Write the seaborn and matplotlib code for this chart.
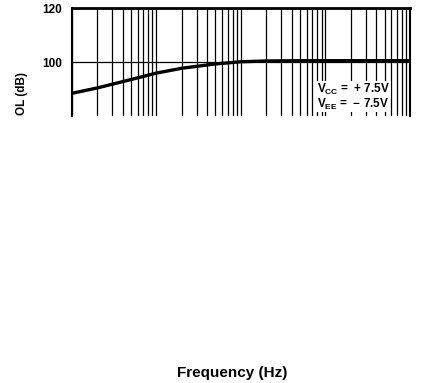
import matplotlib
matplotlib.use("Agg")
import matplotlib.pyplot as plt
import seaborn as sns
import pandas as pd
from matplotlib.ticker import LogLocator, NullFormatter

# Data
freq_hz = [10, 20, 50, 100, 200, 500, 1000, 2000, 5000, 20000, 100000]
gain_db = [88.4, 90.4, 93.5, 95.9, 97.7, 99.3, 100.1, 100.4, 100.5, 100.5, 100.5]
y_ticks = [100, 120]
y_tick_labels = ["100", "120"]
supply_labels = [r"$\mathbf{V_{CC}}$ =  + 7.5V", r"$\mathbf{V_{EE}}$ =  − 7.5V"]

sns.set_style("white")
plt.rcParams["font.family"] = ["Liberation Sans", "DejaVu Sans"]
plt.rcParams["mathtext.fontset"] = "custom"
plt.rcParams["mathtext.rm"] = "Liberation Sans"
plt.rcParams["mathtext.bf"] = "Liberation Sans:bold"
plt.rcParams["text.color"] = "black"
plt.rcParams["axes.labelcolor"] = "black"
plt.rcParams["xtick.color"] = "black"
plt.rcParams["ytick.color"] = "black"

df = pd.DataFrame({"freq": freq_hz, "gain": gain_db})

fig = plt.figure(figsize=(4.25, 3.83), dpi=100)
ax = fig.add_axes([0.1687, 0.697, 0.796, 0.282])

sns.lineplot(data=df, x="freq", y="gain", ax=ax, color="black", linewidth=2.4)
ax.set_xscale("log")
ax.set_xlim(10, 100000)
ax.set_ylim(80, 120)

ax.xaxis.set_major_locator(LogLocator(base=10, numticks=10))
ax.xaxis.set_minor_locator(LogLocator(base=10, subs=range(2, 10), numticks=100))
ax.xaxis.set_minor_formatter(NullFormatter())
ax.grid(True, which="both", axis="x", color="black", linewidth=0.9)
ax.set_yticks(y_ticks)
ax.set_yticklabels(y_tick_labels, fontsize=8.5, fontweight="bold")
ax.grid(True, which="major", axis="y", color="black", linewidth=0.9)
ax.tick_params(axis="both", which="both", length=0)
ax.tick_params(axis="y", pad=7)
ax.tick_params(axis="x", labelbottom=False)

for side in ["top", "left", "right"]:
    ax.spines[side].set_visible(True)
    ax.spines[side].set_color("black")
ax.spines["top"].set_linewidth(2.0)
ax.spines["left"].set_linewidth(1.5)
ax.spines["right"].set_linewidth(1.5)
ax.spines["bottom"].set_visible(False)

ax.set_ylabel("OL (dB)", fontsize=8.5, fontweight="bold")
ax.yaxis.set_label_coords(-0.13, 0.206)
ax.set_xlabel("Frequency (Hz)", fontsize=11, fontweight="bold")
ax.xaxis.set_label_coords(0.474, -2.31)

for lbl, yy in zip(supply_labels, [0.25, 0.111]):
    ax.text(0.725, yy, lbl, transform=ax.transAxes, fontsize=8.5, fontweight="bold",
            va="center", ha="left",
            bbox=dict(facecolor="white", edgecolor="none", pad=0.5))

fig.savefig("out.png", dpi=100)
